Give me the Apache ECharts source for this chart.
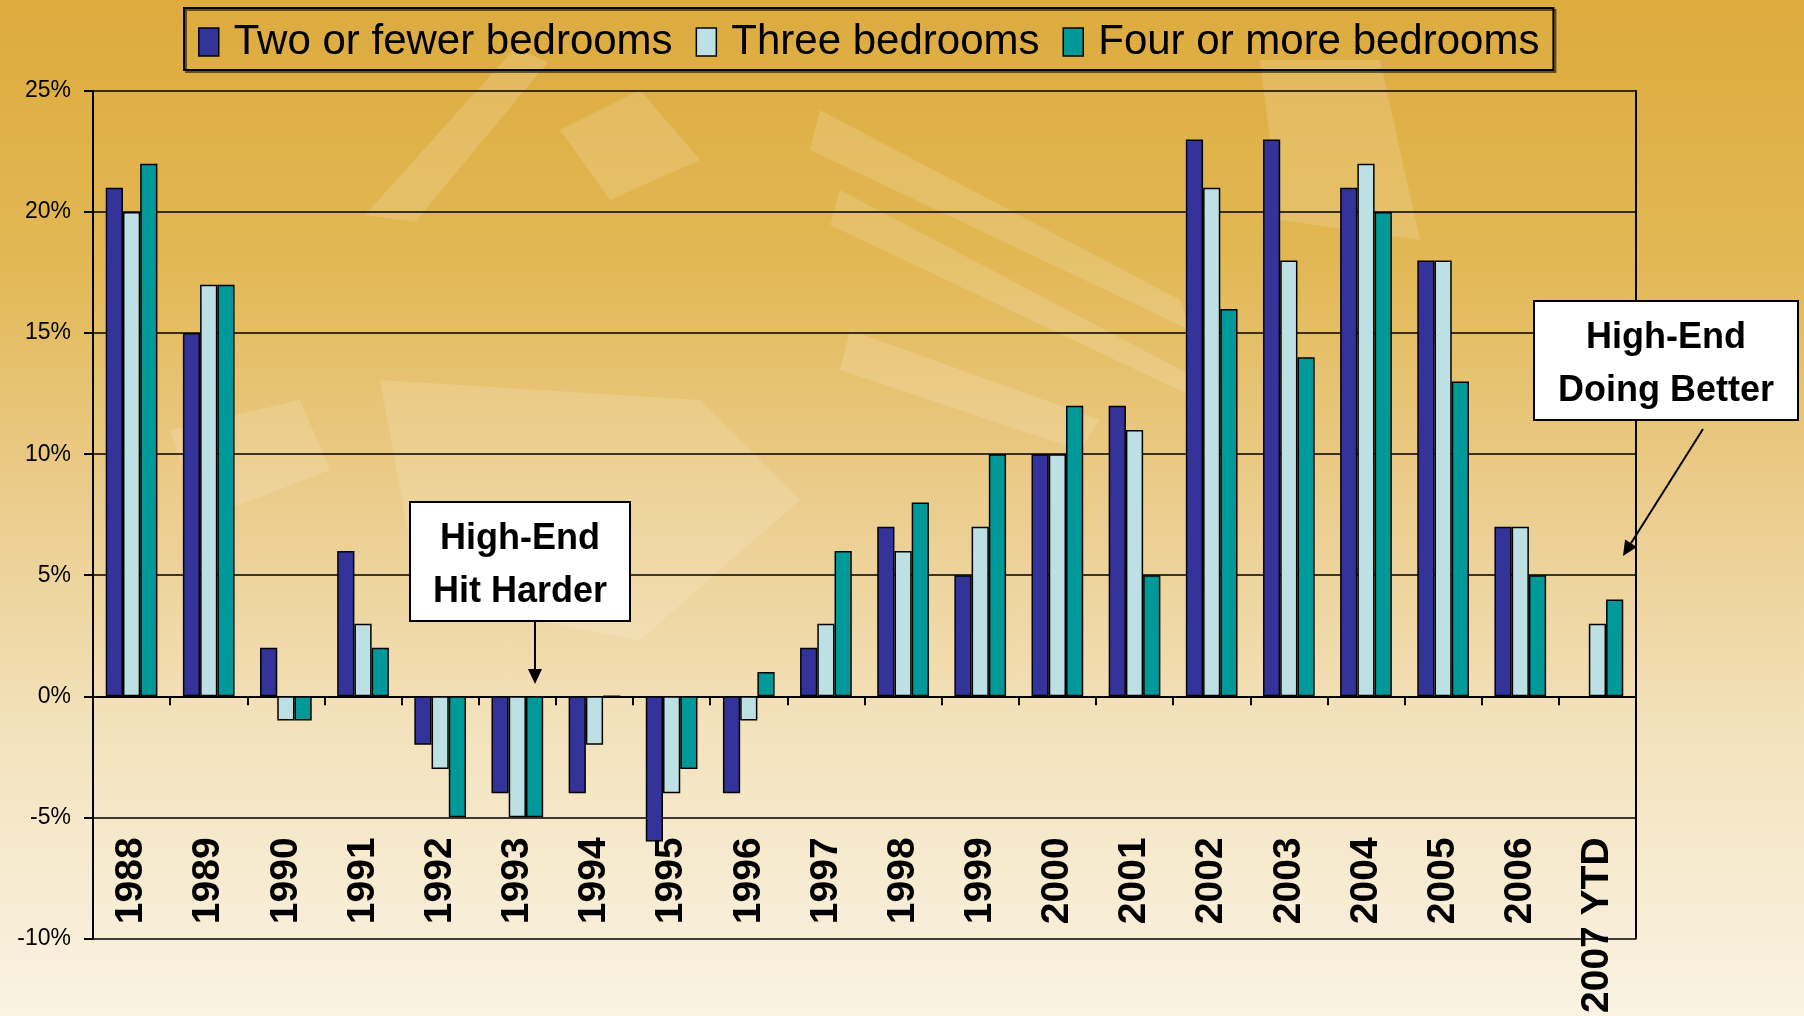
<!DOCTYPE html>
<html>
<head>
<meta charset="utf-8">
<script src="https://cdn.jsdelivr.net/npm/echarts@6/dist/echarts.min.js"></script>
<style>
  html, body { margin: 0; padding: 0; }
  #chart {
    width: 1804px; height: 1016px;
    background: linear-gradient(to bottom, #ddab3e 0%, #e2b753 25%, #ebcd8e 50%, #f3e2bc 72%, #faf3e4 100%);
  }
</style>
</head>
<body>
<div id="chart"></div>
<script>
  // categories and series values (percent change)
  const years = ['1988', '1989', '1990', '1991', '1992', '1993', '1994', '1995', '1996', '1997',
    '1998', '1999', '2000', '2001', '2002', '2003', '2004', '2005', '2006', '2007 YTD'];
  const twoOrFewer = [21, 15, 2, 6, -2, -4, -4, -6, -4, 2, 7, 5, 10, 12, 23, 23, 21, 18, 7, null];
  const threeBeds = [20, 17, -1, 3, -3, -5, -2, -4, -1, 3, 6, 7, 10, 11, 21, 18, 22, 18, 7, 3];
  const fourPlus = [22, 17, -1, 2, -5, -5, 0, -3, 1, 6, 8, 10, 12, 5, 16, 14, 20, 13, 5, 4];
  const seriesNames = ['Two or fewer bedrooms', 'Three bedrooms', 'Four or more bedrooms'];
  const yMin = -10, yMax = 25, yStep = 5;

  const font = '"Liberation Sans", Arial, sans-serif';

  // arrow made of a line and a filled head
  function arrow(x1, y1, x2, y2) {
    const a = Math.atan2(y2 - y1, x2 - x1), L = 15, W = 7;
    const bx = x2 - L * Math.cos(a), by = y2 - L * Math.sin(a);
    return [
      {type: 'line', z: 100, shape: {x1: x1, y1: y1, x2: bx, y2: by}, style: {stroke: '#000', lineWidth: 2}},
      {type: 'polygon', z: 100, shape: {points: [[x2, y2], [bx + W * Math.sin(a), by - W * Math.cos(a)], [bx - W * Math.sin(a), by + W * Math.cos(a)]]},
        style: {fill: '#000'}}
    ];
  }

  function noteBox(x, y, w, h, lines) {
    const els = [{type: 'rect', z: 100, shape: {x: x, y: y, width: w, height: h}, style: {fill: '#fff', stroke: '#000', lineWidth: 2}}];
    lines.forEach((t, i) => {
      els.push({type: 'text', z: 101, style: {text: t, x: x + w / 2, y: y + 37 + i * 53, textAlign: 'center', textVerticalAlign: 'middle',
        font: 'bold 36px ' + font, fill: '#000'}});
    });
    return els;
  }

  // faint light shapes in the background
  const light = 'rgba(255,250,235,0.16)';
  const bgShapes = [
    [[365, 215], [415, 222], [548, 62], [515, 48]],
    [[380, 380], [700, 400], [800, 500], [640, 640], [420, 600]],
    [[820, 110], [1180, 300], [1190, 330], [810, 150]],
    [[840, 190], [1200, 380], [1200, 400], [830, 225]],
    [[850, 330], [1100, 420], [1080, 450], [840, 370]],
    [[1260, 60], [1380, 60], [1420, 240], [1280, 220]],
    [[170, 430], [300, 400], [330, 470], [200, 520]],
    [[560, 130], [640, 90], [700, 160], [610, 200]]
  ].map(p => ({type: 'polygon', z: -10, silent: true, shape: {points: p}, style: {fill: light}}));

  let myChart = echarts.init(document.getElementById('chart'));
  myChart.setOption({
    animation: false,
    textStyle: {fontFamily: font},
    color: ['#333399', '#bce0e4', '#009999'],
    legend: {
      left: 184,
      top: 8,
      padding: [13, 14, 7, 14],
      itemGap: 23,
      itemWidth: 20,
      itemHeight: 28,
      icon: 'rect',
      borderColor: '#000',
      borderWidth: 2,
      shadowColor: 'rgba(0,0,0,0.55)',
      shadowOffsetX: 2,
      shadowOffsetY: 2,
      textStyle: {fontSize: 42, lineHeight: 42, color: '#000', fontFamily: font, padding: [0, 0, 0, 10]},
      itemStyle: {borderColor: '#000', borderWidth: 1.5},
      data: seriesNames
    },
    grid: {left: 93, right: 168, top: 91, bottom: 75},
    xAxis: [{
      type: 'category',
      data: years,
      axisLine: {onZero: true, lineStyle: {color: '#000', width: 2}},
      axisTick: {show: true, length: 9, lineStyle: {color: '#000', width: 2}},
      axisLabel: {show: false}
    }, {
      type: 'category',
      data: years,
      position: 'bottom',
      offset: -101,
      axisLine: {show: false},
      axisTick: {show: false},
      axisLabel: {rotate: 90, margin: 0, fontSize: 39, fontWeight: 'bold', color: '#000', fontFamily: font, interval: 0}
    }],
    yAxis: [{
      type: 'value',
      min: yMin,
      max: yMax,
      interval: yStep,
      axisLine: {show: true, lineStyle: {color: '#000', width: 2}},
      axisTick: {show: true, length: 9, lineStyle: {color: '#000', width: 2}},
      axisLabel: {formatter: '{value}%', fontSize: 23, color: '#000', margin: 22, fontFamily: font},
      splitLine: {lineStyle: {color: '#000', width: 1.5}}
    }, {
      type: 'value',
      min: yMin,
      max: yMax,
      interval: yStep,
      position: 'right',
      axisLine: {show: true, lineStyle: {color: '#000', width: 2}},
      axisTick: {show: false},
      axisLabel: {show: false},
      splitLine: {show: false}
    }],
    series: [twoOrFewer, threeBeds, fourPlus].map((d, i) => ({
      name: seriesNames[i],
      type: 'bar',
      data: d,
      barGap: '0%',
      barCategoryGap: '33%',
      itemStyle: {borderColor: '#000', borderWidth: 1.5}
    })),
    graphic: bgShapes
      .concat(noteBox(410, 502, 220, 119, ['High-End', 'Hit Harder']))
      .concat(arrow(535, 621, 535, 684))
      .concat(noteBox(1534, 301, 264, 119, ['High-End', 'Doing Better']))
      .concat(arrow(1703, 429, 1623, 556))
  });
</script>
</body>
</html>
